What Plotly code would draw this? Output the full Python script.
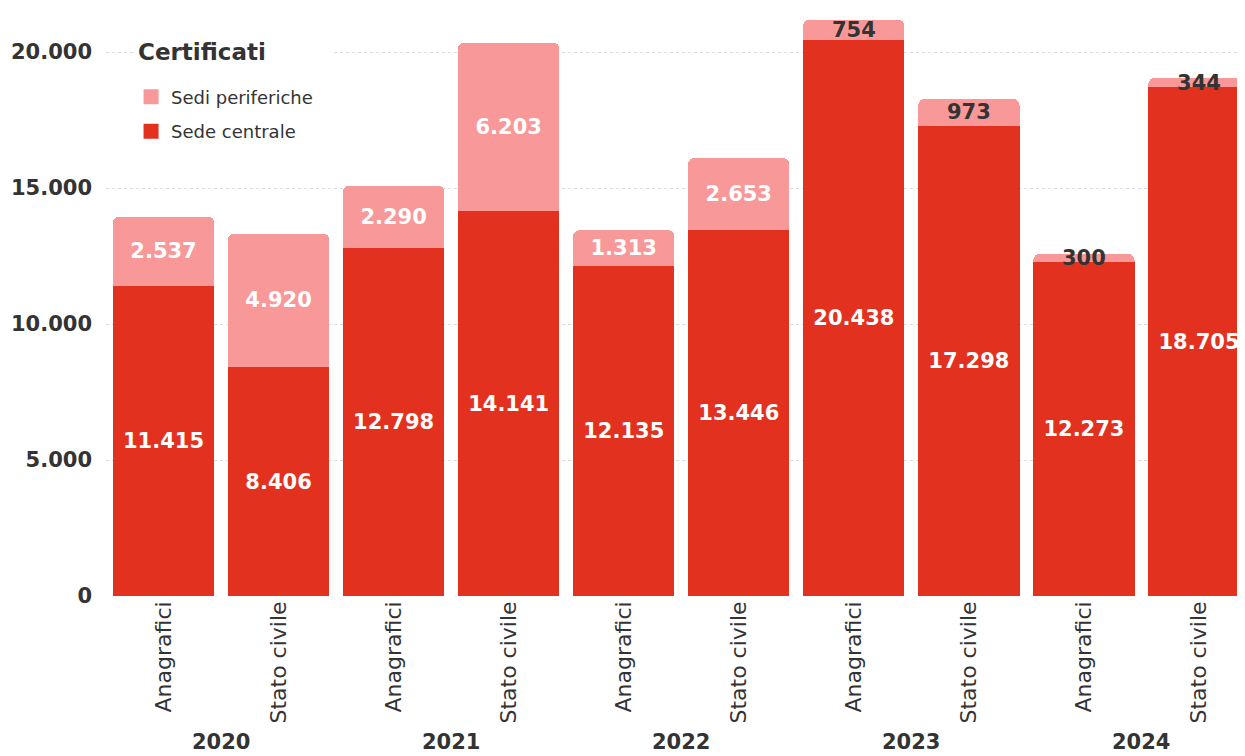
import plotly.graph_objects as go

years = ["2020", "2021", "2022", "2023", "2024"]
types = ["Anagrafici", "Stato civile"]
categories = [t for y in years for t in types]
sede_centrale = [11415, 8406, 12798, 14141, 12135, 13446, 20438, 17298, 12273, 18705]
sedi_periferiche = [2537, 4920, 2290, 6203, 1313, 2653, 754, 973, 300, 344]
periferiche_label_colors = ["white", "white", "white", "white", "white", "white",
                            "#333333", "#333333", "#333333", "#333333"]
legend_title = "Certificati"

x_pos = list(range(len(categories)))
FONT = "DejaVu Sans"
DARK = "#E3311F"
LIGHT = "#F99898"
TXT = "#333333"

fig = go.Figure()
fig.add_trace(go.Bar(
    x=x_pos, y=sede_centrale, name="Sede centrale", marker_color=DARK,
    marker_line_width=0, showlegend=False,
    texttemplate="%{y:,}", textposition="inside", insidetextanchor="middle",
    textfont=dict(family=FONT, size=21, color="white", weight="bold"),
    hoverinfo="skip",
))
fig.add_trace(go.Bar(
    x=x_pos, y=sedi_periferiche, name="Sedi periferiche", marker_color=LIGHT,
    marker_line_width=0, showlegend=False,
    texttemplate="%{y:,}", textposition="inside", insidetextanchor="middle",
    textfont=dict(family=FONT, size=21, color=periferiche_label_colors, weight="bold"),
    hoverinfo="skip",
))
# legend entries (square swatches)
fig.add_trace(go.Scatter(x=[None], y=[None], mode="markers", name="Sedi periferiche",
                         legendgroup="a", marker=dict(symbol="square", size=15, color=LIGHT)))
fig.add_trace(go.Scatter(x=[None], y=[None], mode="markers", name="Sede centrale",
                         legendgroup="b", marker=dict(symbol="square", size=15, color=DARK)))

for i, yr in enumerate(years):
    fig.add_annotation(x=2 * i + 0.5, y=-0.248, xref="x", yref="paper",
                       text=yr, showarrow=False, yanchor="middle",
                       font=dict(family=FONT, size=21, color=TXT, weight="bold"))

fig.add_annotation(x=0.0234, y=0.925, xref="paper", yref="paper", text=legend_title,
                   showarrow=False, xanchor="left", yanchor="middle", align="left",
                   width=190, bgcolor="white", borderpad=4,
                   font=dict(family=FONT, size=23, color=TXT, weight="bold"))

fig.update_layout(
    width=1237, height=748,
    margin=dict(l=98, r=0, t=0, b=160),
    barmode="stack", bargap=0.12, barcornerradius=6,
    separators=",.",
    plot_bgcolor="white", paper_bgcolor="white",
    uniformtext=dict(minsize=21, mode="show"),
    showlegend=True,
    legend=dict(
        font=dict(family=FONT, size=18, color=TXT),
        traceorder="grouped", tracegroupgap=8,
        x=0.022, y=0.88, xanchor="left", yanchor="top",
        bgcolor="white", itemclick=False,
    ),
)
fig.update_xaxes(
    tickvals=x_pos, ticktext=categories, tickangle=-90, range=[-0.5, 9.4],
    showgrid=False, zeroline=False, showline=False, ticks="",
    tickfont=dict(family=FONT, size=22, color=TXT),
)
fig.update_yaxes(
    range=[0, 21620], tickvals=[0, 5000, 10000, 15000, 20000], tickformat=",d",
    showgrid=True, gridcolor="#dddddd", griddash="3px,3px", zeroline=False,
    showline=False, ticks="", ticklabelstandoff=13,
    tickfont=dict(family=FONT, size=21, color=TXT, weight="bold"),
)

fig.write_html("out.html")
